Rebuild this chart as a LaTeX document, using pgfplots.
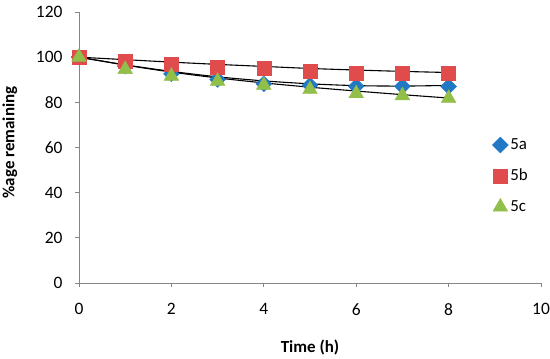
\documentclass[border=0pt]{standalone}
\usepackage{pgfplots}
\pgfplotsset{compat=1.18}
\usepackage{fontspec}
\setmainfont{Carlito}
\definecolor{cA}{RGB}{33,120,196}
\definecolor{cB}{RGB}{224,76,76}
\definecolor{cC}{RGB}{146,190,74}
\definecolor{axgray}{RGB}{134,134,134}
\begin{document}
\begin{tikzpicture}
\useasboundingbox (-79bp,-76bp) rectangle (471bp,283bp);
\begin{axis}[
  scale only axis,
  width=462bp, height=271bp,
  xmin=0, xmax=10, ymin=0, ymax=120,
  xtick={0,2,4,6,8,10}, ytick={0,20,40,60,80,100,120},
  axis x line=bottom, axis y line=left,
  axis line style={axgray, line width=0.8pt, -},
  tick style={axgray, line width=0.8pt},
  tick align=outside, major tick length=4bp,
  /pgf/number format/assume math mode=true,
  ticklabel style={font=\fontsize{17.5}{19}\selectfont},
  xticklabel style={yshift=-13bp},
  yticklabel style={xshift=-9bp},
  xlabel={\textbf{Time (h)}},
  ylabel={\textbf{\%age remaining}},
  label style={font=\fontsize{17}{19}\selectfont},
  xlabel style={yshift=-18bp},
  ylabel style={yshift=12bp, xshift=5bp},
  legend style={draw=none, fill=none, at={(0.888,0.395)}, anchor=west,
    font=\fontsize{17}{19}\selectfont, row sep=14bp},
  legend cell align=left,
  clip=false,
]
% trend lines
\addplot[black, line width=1.1pt, smooth, forget plot] coordinates {
 (0,100) (1,96.6) (2,93.7) (3,91.3) (4,89.5) (5,88.2) (6,87.4) (7,87.2) (8,87.5)};
\addplot[black, line width=1.1pt, smooth, forget plot] coordinates {
 (0,100) (1,98.9) (2,97.8) (3,96.8) (4,95.9) (5,95.0) (6,94.3) (7,93.7) (8,93.2)};
\addplot[black, line width=1.1pt, smooth, forget plot] coordinates {
 (0,100) (1,96.5) (2,93.4) (3,90.8) (4,88.6) (5,86.7) (6,85.0) (7,83.4) (8,81.9)};
% data
\addplot[only marks, mark=square*, mark size=5.6bp, mark options={rotate=45, fill=cA, draw=cA}] coordinates {
 (0,100) (1,96) (2,92.6) (3,90.1) (4,88.2) (5,87.5) (6,87.1) (7,87.1) (8,87)};
\addlegendentry{5a}
\addplot[only marks, mark=square*, mark size=7bp, mark options={fill=cB, draw=cB}] coordinates {
 (0,100) (1,98) (2,97) (3,95.5) (4,95.2) (5,94) (6,93) (7,93) (8,93)};
\addlegendentry{5b}
\addplot[only marks, mark=triangle*, mark size=8.5bp, mark options={fill=cC, draw=cC}] coordinates {
 (0,100) (1,94.6) (2,91.6) (3,89.4) (4,87.6) (5,85.7) (6,83.9) (7,83) (8,81.8)};
\addlegendentry{5c}
\end{axis}
\end{tikzpicture}
\end{document}
